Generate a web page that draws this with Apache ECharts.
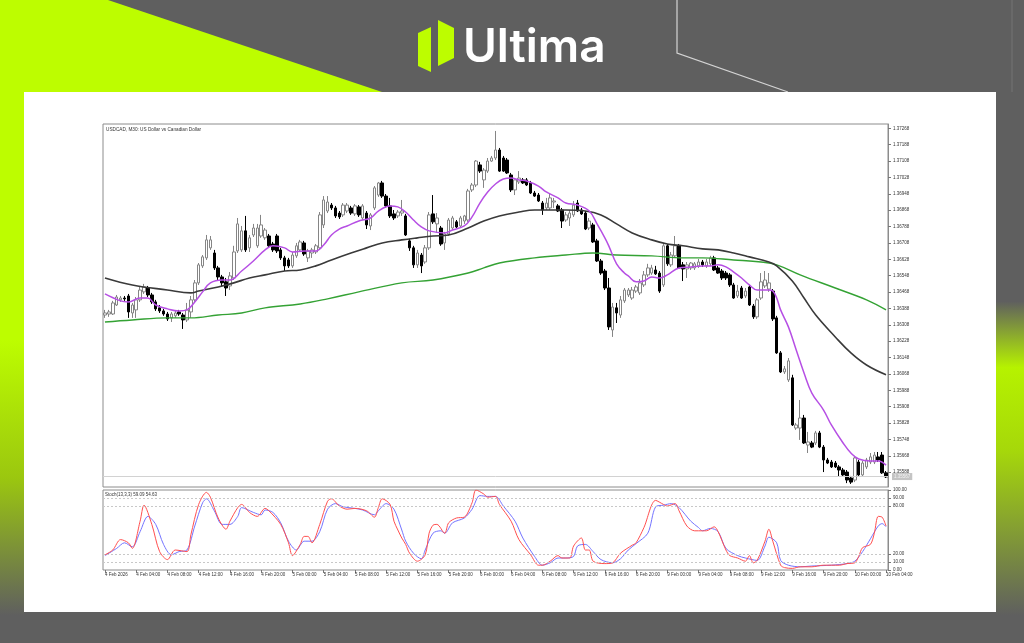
<!DOCTYPE html>
<html><head><meta charset="utf-8">
<script src="https://cdn.jsdelivr.net/npm/echarts@6/dist/echarts.min.js"></script>
<style>html,body{margin:0;padding:0;background:#5f5f5f;}#c{width:1024px;height:643px;}</style>
</head><body><div id="c"></div>
<script>
const chartTitle = "USDCAD, M30: US Dollar vs Canadian Dollar";
const stochTitle = "Stoch(13,3,3) 59.09 54.63";
const brand = "Ultima";
const days = ["4 Feb","5 Feb","6 Feb","9 Feb","10 Feb"];
const barsPerDay = [48,48,48,48,9];
const timeTickLabels = ["4 Feb 2026","4 Feb 04:00","4 Feb 08:00","4 Feb 12:00","4 Feb 16:00","4 Feb 20:00",
 "5 Feb 00:00","5 Feb 04:00","5 Feb 08:00","5 Feb 12:00","5 Feb 16:00","5 Feb 20:00",
 "6 Feb 00:00","6 Feb 04:00","6 Feb 08:00","6 Feb 12:00","6 Feb 16:00","6 Feb 20:00",
 "9 Feb 00:00","9 Feb 04:00","9 Feb 08:00","9 Feb 12:00","9 Feb 16:00","9 Feb 20:00",
 "10 Feb 00:00","10 Feb 04:00"];
const priceTicks = [1.35588,1.35668,1.35748,1.35828,1.35908,1.35988,1.36068,1.36148,1.36228,1.36308,1.36388,
 1.36468,1.36548,1.36628,1.36708,1.36788,1.36868,1.36948,1.37028,1.37108,1.37188,1.37268];
const stochTicks = [0,10,20,80,90,100];
const stochLevels = [10,20,80,90];
const lastPrice = 1.35567;

const open = [1.36356,1.36361,1.36361,1.36405,1.36430,1.36439,1.36449,1.36366,1.36381,1.36430,
1.36469,1.36488,1.36454,1.36420,1.36391,1.36376,1.36361,1.36342,1.36352,1.36371,
1.36356,1.36332,1.36371,1.36430,1.36513,1.36596,1.36635,1.36684,1.36659,1.36586,
1.36542,1.36518,1.36498,1.36537,1.36669,1.36674,1.36767,1.36684,1.36747,1.36694,
1.36742,1.36733,1.36742,1.36703,1.36742,1.36674,1.36635,1.36625,1.36596,1.36645,
1.36674,1.36708,1.36635,1.36659,1.36664,1.36684,1.36796,1.36864,1.36893,1.36879,
1.36854,1.36845,1.36864,1.36879,1.36850,1.36884,1.36830,1.36854,1.36791,1.36879,
1.36942,1.37001,1.36937,1.36889,1.36850,1.36840,1.36854,1.36840,1.36718,1.36684,
1.36601,1.36649,1.36615,1.36684,1.36850,1.36801,1.36781,1.36708,1.36752,1.36781,
1.36811,1.36791,1.36815,1.36820,1.36967,1.36991,1.37089,1.37016,1.37059,1.37108,
1.37123,1.37162,1.37123,1.37113,1.37040,1.36967,1.37006,1.37016,1.37016,1.37001,
1.36952,1.36942,1.36903,1.36879,1.36879,1.36908,1.36889,1.36869,1.36820,1.36830,
1.36845,1.36903,1.36869,1.36854,1.36781,1.36796,1.36718,1.36620,1.36571,1.36488,
1.36283,1.36391,1.36356,1.36425,1.36454,1.36439,1.36473,1.36464,1.36503,1.36552,
1.36561,1.36576,1.36561,1.36503,1.36694,1.36601,1.36645,1.36694,1.36601,1.36581,
1.36586,1.36586,1.36596,1.36615,1.36596,1.36606,1.36635,1.36586,1.36571,1.36561,
1.36552,1.36503,1.36449,1.36488,1.36449,1.36493,1.36400,1.36347,1.36439,1.36498,
1.36483,1.36473,1.36342,1.36171,1.36078,1.36039,1.36049,1.35804,1.35804,1.35853,
1.35721,1.35731,1.35731,1.35780,1.35711,1.35648,1.35638,1.35633,1.35614,1.35599,
1.35589,1.35560,1.35550,1.35638,1.35575,1.35614,1.35638,1.35638,1.35663,1.35672,
1.35585];
const high = [1.36381,1.36381,1.36425,1.36454,1.36449,1.36449,1.36459,1.36415,1.36444,1.36493,
1.36508,1.36498,1.36464,1.36430,1.36405,1.36386,1.36371,1.36371,1.36376,1.36381,
1.36366,1.36415,1.36449,1.36527,1.36610,1.36649,1.36747,1.36742,1.36674,1.36596,
1.36552,1.36537,1.36566,1.36694,1.36830,1.36791,1.36840,1.36747,1.36801,1.36801,
1.36845,1.36781,1.36752,1.36713,1.36752,1.36684,1.36645,1.36635,1.36664,1.36708,
1.36723,1.36718,1.36679,1.36684,1.36703,1.36859,1.36937,1.36937,1.36903,1.36889,
1.36864,1.36903,1.36903,1.36889,1.36898,1.36893,1.36898,1.36864,1.36854,1.36986,
1.37006,1.37011,1.36947,1.36928,1.36869,1.36869,1.36918,1.36850,1.36728,1.36694,
1.36674,1.36659,1.36698,1.36859,1.36942,1.36854,1.36791,1.36762,1.36830,1.36840,
1.36820,1.36840,1.36845,1.36972,1.37001,1.37113,1.37104,1.37074,1.37123,1.37133,
1.37255,1.37172,1.37133,1.37123,1.37050,1.37016,1.37059,1.37025,1.37025,1.37011,
1.36962,1.36952,1.36913,1.36928,1.36952,1.36928,1.36898,1.36879,1.36859,1.36869,
1.36913,1.36918,1.36879,1.36864,1.36830,1.36806,1.36728,1.36630,1.36581,1.36537,
1.36415,1.36415,1.36449,1.36488,1.36488,1.36493,1.36503,1.36532,1.36571,1.36606,
1.36601,1.36596,1.36571,1.36708,1.36703,1.36664,1.36742,1.36703,1.36615,1.36615,
1.36615,1.36615,1.36630,1.36625,1.36630,1.36645,1.36645,1.36596,1.36581,1.36571,
1.36561,1.36513,1.36503,1.36498,1.36488,1.36503,1.36410,1.36439,1.36561,1.36571,
1.36561,1.36483,1.36352,1.36180,1.36107,1.36146,1.36064,1.35829,1.35941,1.35868,
1.35785,1.35741,1.35790,1.35790,1.35721,1.35658,1.35648,1.35643,1.35623,1.35609,
1.35599,1.35570,1.35668,1.35648,1.35643,1.35658,1.35682,1.35687,1.35687,1.35687,
1.35594];
const low = [1.36342,1.36347,1.36356,1.36400,1.36420,1.36425,1.36342,1.36342,1.36342,1.36420,
1.36459,1.36444,1.36410,1.36376,1.36366,1.36352,1.36327,1.36322,1.36342,1.36352,
1.36288,1.36322,1.36342,1.36420,1.36503,1.36586,1.36625,1.36674,1.36576,1.36527,
1.36493,1.36449,1.36478,1.36527,1.36659,1.36664,1.36664,1.36664,1.36737,1.36684,
1.36733,1.36723,1.36684,1.36664,1.36659,1.36625,1.36571,1.36586,1.36586,1.36635,
1.36664,1.36645,1.36615,1.36635,1.36654,1.36674,1.36781,1.36854,1.36869,1.36830,
1.36825,1.36835,1.36854,1.36845,1.36840,1.36835,1.36820,1.36776,1.36771,1.36869,
1.36933,1.36928,1.36879,1.36830,1.36820,1.36830,1.36840,1.36742,1.36669,1.36586,
1.36586,1.36561,1.36606,1.36674,1.36801,1.36757,1.36694,1.36674,1.36742,1.36771,
1.36781,1.36781,1.36801,1.36811,1.36957,1.36981,1.37050,1.36977,1.37050,1.37104,
1.37113,1.37055,1.37055,1.37045,1.36957,1.36942,1.36996,1.36996,1.36986,1.36947,
1.36933,1.36908,1.36845,1.36869,1.36869,1.36879,1.36859,1.36781,1.36811,1.36791,
1.36835,1.36859,1.36845,1.36771,1.36771,1.36708,1.36615,1.36552,1.36478,1.36283,
1.36249,1.36317,1.36342,1.36415,1.36444,1.36430,1.36464,1.36454,1.36493,1.36542,
1.36552,1.36552,1.36464,1.36493,1.36596,1.36591,1.36635,1.36581,1.36522,1.36537,
1.36576,1.36576,1.36586,1.36591,1.36586,1.36596,1.36571,1.36557,1.36527,1.36527,
1.36493,1.36435,1.36439,1.36435,1.36439,1.36400,1.36337,1.36337,1.36430,1.36488,
1.36469,1.36327,1.36166,1.36073,1.36068,1.36029,1.35814,1.35795,1.35746,1.35726,
1.35682,1.35706,1.35721,1.35706,1.35589,1.35628,1.35609,1.35609,1.35565,1.35570,
1.35535,1.35531,1.35540,1.35570,1.35565,1.35604,1.35628,1.35628,1.35638,1.35580,
1.35560];
const close = [1.36366,1.36371,1.36415,1.36444,1.36439,1.36435,1.36371,1.36405,1.36430,1.36478,
1.36493,1.36454,1.36420,1.36386,1.36376,1.36361,1.36337,1.36361,1.36366,1.36361,
1.36332,1.36381,1.36430,1.36513,1.36601,1.36640,1.36723,1.36723,1.36586,1.36542,
1.36513,1.36488,1.36547,1.36664,1.36801,1.36767,1.36674,1.36733,1.36781,1.36781,
1.36796,1.36771,1.36694,1.36674,1.36669,1.36635,1.36596,1.36596,1.36649,1.36694,
1.36713,1.36654,1.36669,1.36674,1.36694,1.36845,1.36918,1.36908,1.36879,1.36840,
1.36835,1.36893,1.36893,1.36854,1.36889,1.36845,1.36889,1.36796,1.36845,1.36977,
1.37001,1.36937,1.36889,1.36840,1.36830,1.36859,1.36864,1.36747,1.36684,1.36601,
1.36659,1.36596,1.36684,1.36845,1.36811,1.36830,1.36703,1.36752,1.36820,1.36830,
1.36786,1.36830,1.36840,1.36962,1.36991,1.37108,1.37059,1.37064,1.37108,1.37123,
1.37162,1.37059,1.37059,1.37050,1.36967,1.37016,1.37025,1.37001,1.36991,1.36952,
1.36937,1.36913,1.36869,1.36903,1.36928,1.36913,1.36864,1.36815,1.36845,1.36854,
1.36893,1.36864,1.36850,1.36776,1.36815,1.36713,1.36620,1.36561,1.36488,1.36298,
1.36395,1.36366,1.36430,1.36478,1.36478,1.36478,1.36493,1.36513,1.36552,1.36586,
1.36586,1.36557,1.36473,1.36694,1.36606,1.36649,1.36694,1.36586,1.36581,1.36601,
1.36610,1.36606,1.36615,1.36601,1.36615,1.36635,1.36576,1.36561,1.36537,1.36537,
1.36503,1.36439,1.36473,1.36439,1.36473,1.36405,1.36347,1.36430,1.36518,1.36527,
1.36513,1.36337,1.36171,1.36078,1.36093,1.36132,1.35819,1.35819,1.35853,1.35731,
1.35736,1.35711,1.35780,1.35711,1.35648,1.35633,1.35614,1.35614,1.35599,1.35575,
1.35550,1.35540,1.35658,1.35575,1.35633,1.35648,1.35663,1.35672,1.35648,1.35585,
1.35565];

// moving averages: [bar index, price]
const maFast = [[0,1.36459],[4,1.36425],[6,1.36420],[9,1.36439],[11,1.36439],[13,1.36405],[16,1.36386],[19,1.36376],
 [21,1.36381],[23,1.36420],[25,1.36469],[27,1.36513],[30,1.36527],[32,1.36527],[35,1.36571],[38,1.36620],[41,1.36674],
 [43,1.36694],[46,1.36684],[48,1.36664],[51,1.36669],[54,1.36669],[56,1.36698],[58,1.36747],[60,1.36776],[62,1.36791],
 [65,1.36815],[68,1.36830],[70,1.36864],[73,1.36889],[75,1.36884],[77,1.36859],[79,1.36820],[81,1.36786],[83,1.36767],
 [87,1.36757],[89,1.36771],[92,1.36791],[94,1.36835],[96,1.36903],[98,1.36957],[100,1.36996],[102,1.37020],[104,1.37025],
 [106,1.37016],[108,1.37011],[111,1.36986],[113,1.36957],[116,1.36928],[118,1.36903],[121,1.36893],[124,1.36864],
 [126,1.36801],[128,1.36733],[129,1.36694],[131,1.36606],[133,1.36561],[134,1.36547],[136,1.36518],[138,1.36522],
 [140,1.36542],[142,1.36537],[144,1.36552],[147,1.36586],[150,1.36591],[153,1.36596],[155,1.36596],[157,1.36601],
 [159,1.36591],[161,1.36566],[163,1.36537],[165,1.36503],[167,1.36478],[170,1.36478],[171,1.36473],[172,1.36439],
 [173,1.36381],[175,1.36298],[177,1.36185],[179,1.36073],[181,1.35975],[184,1.35892],[186,1.35819],[189,1.35731],
 [191,1.35682],[193,1.35653],[196,1.35643],[198,1.35643],[200,1.35623]];
const maMid = [[0,1.36537],[7,1.36503],[16,1.36478],[22,1.36464],[24,1.36473],[29,1.36493],[33,1.36513],[37,1.36537],
 [41,1.36552],[46,1.36571],[50,1.36576],[54,1.36596],[58,1.36625],[63,1.36659],[67,1.36684],[71,1.36708],[76,1.36723],
 [80,1.36733],[84,1.36742],[88,1.36747],[93,1.36781],[97,1.36815],[101,1.36840],[106,1.36859],[110,1.36869],[114,1.36869],
 [118,1.36869],[123,1.36864],[127,1.36845],[131,1.36801],[135,1.36757],[140,1.36723],[144,1.36703],[148,1.36694],
 [153,1.36679],[157,1.36674],[161,1.36659],[165,1.36640],[170,1.36615],[172,1.36596],[176,1.36522],[179,1.36439],
 [182,1.36356],[187,1.36249],[191,1.36171],[195,1.36112],[200,1.36064]];
const maSlow = [[0,1.36322],[7,1.36332],[16,1.36342],[22,1.36342],[29,1.36356],[35,1.36366],[41,1.36391],[50,1.36410],
 [57,1.36435],[65,1.36469],[76,1.36513],[84,1.36527],[93,1.36561],[97,1.36586],[101,1.36610],[110,1.36635],[118,1.36649],
 [125,1.36659],[131,1.36649],[140,1.36645],[148,1.36635],[153,1.36635],[161,1.36625],[168,1.36615],[172,1.36601],
 [178,1.36552],[187,1.36488],[195,1.36430],[200,1.36381]];
// stochastic: [bar index, value]
const stochMain = [[0,19],[2,25],[4,38],[6,34],[7,27],[9,61],[10,81],[12,57],[14,23],[16,13],[18,25],[21,23],[22,44],
 [24,82],[26,97],[27,91],[29,65],[31,51],[32,61],[34,78],[35,82],[37,72],[39,67],[41,77],[42,74],[45,57],[47,34],[48,18],
 [50,32],[51,42],[52,42],[53,34],[55,57],[57,86],[58,89],[60,80],[62,76],[64,77],[67,74],[69,66],[70,78],[71,89],[73,82],
 [74,61],[75,50],[76,40],[77,32],[78,21],[80,11],[82,19],[83,46],[84,56],[85,57],[87,46],[88,59],[90,65],[92,66],[94,84],
 [95,100],[97,95],[98,91],[100,92],[101,82],[104,61],[106,38],[109,19],[111,6],[112,6],[114,11],[116,18],[117,15],[119,15],
 [120,30],[122,40],[123,25],[124,25],[125,11],[128,8],[130,9],[132,21],[135,31],[136,34],[138,53],[141,87],[143,82],[144,80],
 [146,83],[147,74],[149,55],[151,49],[153,49],[154,49],[156,54],[157,48],[159,25],[160,18],[162,15],[164,11],[165,18],[166,9],
 [167,12],[169,36],[170,51],[171,36],[173,6],[174,3],[176,2],[178,4],[181,4],[184,6],[188,6],[190,8],[192,9],[193,17],
 [194,28],[196,32],[197,46],[198,67],[199,66],[200,55]];
const stochSignal = [[0,18],[3,27],[5,34],[7,29],[9,48],[11,67],[13,57],[15,32],[17,19],[19,23],[21,25],[23,55],[25,84],
 [26,89],[28,74],[30,57],[32,57],[34,67],[35,78],[38,72],[40,69],[41,75],[43,72],[45,59],[47,36],[49,25],[51,36],[53,36],
 [55,48],[57,76],[59,83],[61,79],[64,77],[66,75],[69,69],[70,74],[72,83],[74,76],[76,50],[77,36],[79,21],[81,14],[82,25],
 [84,46],[86,49],[87,46],[89,59],[92,65],[94,76],[96,93],[98,92],[100,92],[102,80],[105,61],[107,40],[110,17],[112,6],
 [114,9],[116,15],[118,15],[120,17],[121,30],[123,32],[125,23],[127,13],[130,9],[132,14],[134,25],[136,33],[139,46],
 [141,79],[143,81],[145,83],[147,78],[150,61],[152,53],[153,49],[155,52],[157,48],[159,27],[162,18],[164,15],[167,12],
 [169,30],[170,41],[172,34],[173,12],[175,6],[178,4],[181,5],[186,6],[190,8],[192,11],[194,23],[196,39],[198,55],[199,58],
 [200,54]];

const categories = [];
days.forEach((d, k) => {
  for (let j = 0; j < barsPerDay[k]; j++) {
    const h = Math.floor(j / 2), m = j % 2 ? '30' : '00';
    categories.push(d + ' ' + String(h).padStart(2, '0') + ':' + m);
  }
});
const n = Math.min(open.length, high.length, low.length, close.length, categories.length);
const candles = [];
for (let i = 0; i < n; i++) candles.push([open[i], close[i], low[i], high[i]]);

const LIME = '#bdfd00', GRAY = '#5f5f5f';
const smallFont = 'Liberation Sans, Arial, sans-serif';
const chart = echarts.init(document.getElementById('c'), null, {renderer: 'canvas'});
chart.setOption({
  animation: false,
  graphic: { elements: [
    {type: 'rect', z: -20, silent: true, shape: {x: 0, y: 0, width: 1024, height: 643}, style: {fill: GRAY}},
    {type: 'polygon', z: -19, silent: true, shape: {points: [[0,0],[108,0],[382,92],[0,92]]}, style: {fill: LIME}},
    {type: 'rect', z: -19, silent: true, shape: {x: 0, y: 92, width: 24, height: 551},
      style: {fill: new echarts.graphic.LinearGradient(0, 0, 0, 1, [
        {offset: 0, color: LIME}, {offset: 0.45, color: LIME}, {offset: 0.7, color: '#9bc70f'}, {offset: 0.95, color: GRAY}, {offset: 1, color: GRAY}])}},
    {type: 'rect', z: -19, silent: true, shape: {x: 996, y: 92, width: 28, height: 551},
      style: {fill: new echarts.graphic.LinearGradient(0, 0, 0, 1, [
        {offset: 0, color: GRAY}, {offset: 0.38, color: GRAY}, {offset: 0.5, color: '#b6f200'}, {offset: 0.65, color: '#a6d80a'}, {offset: 0.95, color: GRAY}, {offset: 1, color: GRAY}])}},
    {type: 'polyline', z: -18, silent: true, shape: {points: [[677,0],[677,53],[788,92]]}, style: {stroke: '#d4d4d4', lineWidth: 1.2, fill: null}},
    {type: 'line', z: -18, silent: true, shape: {x1: 1012, y1: 0, x2: 1012, y2: 92}, style: {stroke: '#747474', lineWidth: 1}},
    {type: 'rect', z: -17, silent: true, shape: {x: 24, y: 92, width: 972, height: 520}, style: {fill: '#ffffff'}},
    {type: 'polygon', z: -16, silent: true, shape: {points: [[418,33],[431,27],[431,72],[418,66]]}, style: {fill: LIME}},
    {type: 'polygon', z: -16, silent: true, shape: {points: [[438,20],[454,28],[454,58],[438,66]]}, style: {fill: LIME}},
    {type: 'text', z: -16, silent: true, x: 463, y: 48, style: {text: brand, fill: '#ffffff', font: '600 46px Inter, Lato, sans-serif', verticalAlign: 'middle', textVerticalAlign: 'middle'}},
    {type: 'text', z: 10, silent: true, x: 106, y: 127, style: {text: chartTitle, fill: '#333', font: '4.7px ' + smallFont, verticalAlign: 'top', textVerticalAlign: 'top'}},
    {type: 'text', z: 10, silent: true, x: 105, y: 492, style: {text: stochTitle, fill: '#333', font: '4.5px ' + smallFont, verticalAlign: 'top', textVerticalAlign: 'top'}}
  ]},
  grid: [
    {left: 103, top: 124, width: 785, height: 363, show: true, borderColor: '#8c8c8c', borderWidth: 1, backgroundColor: 'transparent'},
    {left: 103, top: 490, width: 785, height: 80, show: true, borderColor: '#8c8c8c', borderWidth: 1, backgroundColor: 'transparent'}
  ],
  xAxis: [
    {type: 'category', gridIndex: 0, data: categories.slice(0, n), boundaryGap: true,
      axisLine: {show: false}, axisTick: {show: false}, axisLabel: {show: false}, splitLine: {show: false}},
    {type: 'category', gridIndex: 1, data: categories.slice(0, n), boundaryGap: true,
      axisLine: {show: false},
      axisTick: {show: true, alignWithLabel: true, length: 3, interval: (i) => i % 8 === 0, lineStyle: {color: '#777'}},
      axisLabel: {show: true, interval: (i) => i % 8 === 0, formatter: (v, i) => timeTickLabels[i / 8] || '',
        fontSize: 4.5, fontFamily: smallFont, color: '#333', align: 'left', margin: 2},
      splitLine: {show: false}}
  ],
  yAxis: [
    {type: 'value', gridIndex: 0, position: 'right', min: 1.35516, max: 1.37289,
      splitLine: {show: false}, axisLine: {show: true, lineStyle: {color: '#8c8c8c'}},
      axisTick: {show: true, customValues: priceTicks, length: 3, lineStyle: {color: '#777'}},
      axisLabel: {customValues: priceTicks, formatter: (v) => v.toFixed(5), fontSize: 4.5, fontFamily: smallFont, color: '#333', margin: 5}},
    {type: 'value', gridIndex: 1, position: 'right', min: 0, max: 100,
      splitLine: {show: false}, axisLine: {show: true, lineStyle: {color: '#8c8c8c'}},
      axisTick: {show: true, customValues: stochTicks, length: 3, lineStyle: {color: '#777'}},
      axisLabel: {customValues: stochTicks, formatter: (v) => v.toFixed(2), fontSize: 4.5, fontFamily: smallFont, color: '#333', margin: 5}}
  ],
  series: [
    {type: 'candlestick', xAxisIndex: 0, yAxisIndex: 0, data: candles, barWidth: 3,
      itemStyle: {color: '#ffffff', color0: '#000000', borderColor: '#858585', borderColor0: '#000000', borderWidth: 1}},
    {type: 'line', xAxisIndex: 0, yAxisIndex: 0, data: maSlow, smooth: 0.4, showSymbol: false, lineStyle: {color: '#34a234', width: 1.4}, z: 3,
      markLine: {silent: true, symbol: 'none', animation: false, precision: 5,
        lineStyle: {color: '#d2d2d2', type: 'solid', width: 1},
        label: {show: true, position: 'end', formatter: () => lastPrice.toFixed(5), fontSize: 4.5, fontFamily: smallFont,
          color: '#f4f4f4', backgroundColor: '#c4c4c4', padding: [1, 2], distance: 4},
        data: [{yAxis: lastPrice}]}},
    {type: 'line', xAxisIndex: 0, yAxisIndex: 0, data: maMid, smooth: 0.4, showSymbol: false, lineStyle: {color: '#3a3a3a', width: 1.6}, z: 3},
    {type: 'line', xAxisIndex: 0, yAxisIndex: 0, data: maFast, smooth: 0.4, showSymbol: false, lineStyle: {color: '#b64fe4', width: 1.5}, z: 4},
    {type: 'line', xAxisIndex: 1, yAxisIndex: 1, data: stochSignal, smooth: 0.3, showSymbol: false, lineStyle: {color: '#7474ff', width: 1}, z: 3,
      markLine: {silent: true, symbol: 'none', animation: false, label: {show: false},
        lineStyle: {color: '#c8c8c8', type: [2, 2], width: 1},
        data: stochLevels.map(v => ({yAxis: v}))}},
    {type: 'line', xAxisIndex: 1, yAxisIndex: 1, data: stochMain, smooth: 0.3, showSymbol: false, lineStyle: {color: '#ff4f4f', width: 1}, z: 4}
  ]
});
</script></body></html>
